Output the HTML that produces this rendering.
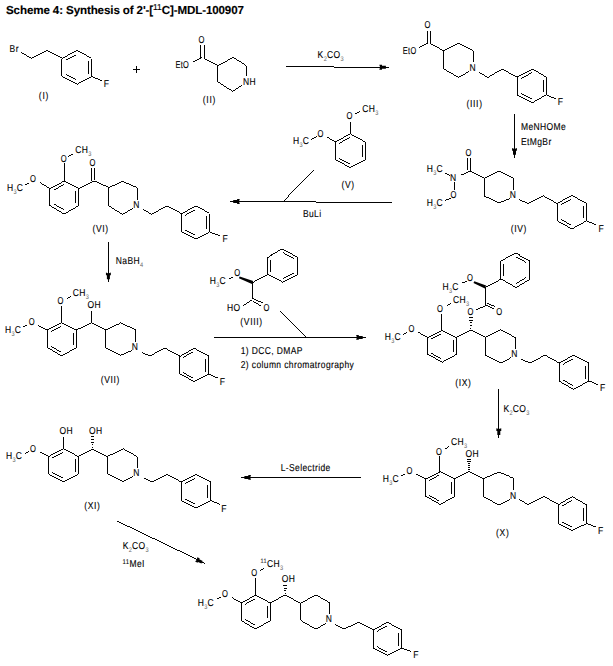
<!DOCTYPE html>
<html><head><meta charset="utf-8"><style>
html,body{margin:0;padding:0;background:#fff;}
svg{display:block;}
text{font-family:"Liberation Sans",sans-serif;fill:#000;text-rendering:geometricPrecision;stroke:#000;stroke-width:0.12;}
path{fill:none;stroke:#000;stroke-linecap:butt;stroke-linejoin:miter;shape-rendering:crispEdges;}
</style></head><body>
<svg width="613" height="666" viewBox="0 0 613 666">
<rect width="613" height="666" fill="#fff"/>
<text x="6" y="14.0" font-size="11.6" font-weight="bold" letter-spacing="-0.12">Scheme 4: Synthesis of 2'-[<tspan font-size="8.5" font-weight="normal" dy="-4.5">11</tspan><tspan dy="4.5">C]-MDL-100907</tspan></text>
<text transform="translate(9.6,52.4) scale(0.85,1)" font-size="10" letter-spacing="0.45">Br</text>
<path d="M21.0,52.2 L31.4,58.5 L46.5,50.7 L61.8,58.5" stroke-width="0.99"/>
<path d="M61.8,58.5 L76.5,50.7" stroke-width="0.99"/>
<path d="M76.5,50.7 L91.2,58.5" stroke-width="0.99"/>
<path d="M91.2,58.5 L91.2,76.2" stroke-width="0.99"/>
<path d="M91.2,76.2 L76.5,84.0" stroke-width="0.99"/>
<path d="M76.5,84.0 L61.8,76.2" stroke-width="0.99"/>
<path d="M61.8,76.2 L61.8,58.5" stroke-width="0.99"/>
<path d="M65.5,59.9 L75.8,54.5" stroke-width="0.99"/>
<path d="M88.2,61.2 L88.2,73.5" stroke-width="0.99"/>
<path d="M75.8,80.2 L65.5,74.8" stroke-width="0.99"/>
<path d="M91.2,76.2 L102.0,81.0" stroke-width="0.99"/>
<text transform="translate(103.8,87.2) scale(0.85,1)" font-size="10" letter-spacing="0.45">F</text>
<text transform="translate(43.9,98.8) scale(0.85,1)" font-size="10" text-anchor="middle" letter-spacing="0.8">(I)</text>
<path d="M133.4,69.7 L140.2,69.7" stroke-width="0.99"/>
<path d="M136.8,66.3 L136.8,73.1" stroke-width="0.99"/>
<text transform="translate(201.6,42.9) scale(0.76,1)" font-size="10" text-anchor="middle" letter-spacing="0.45">O</text>
<path d="M200.5,45.0 L200.5,57.6" stroke-width="0.99"/>
<path d="M204.4,45.0 L204.4,58.4" stroke-width="0.99"/>
<path d="M201.5,57.8 L193.3,61.6" stroke-width="0.99"/>
<text transform="translate(189.2,67.8) scale(0.74,1)" font-size="10" text-anchor="end" letter-spacing="0.45">EtO</text>
<path d="M203.8,58.4 L217.8,65.6" stroke-width="0.99"/>
<path d="M217.8,81.9 L217.8,65.6 L233.4,57.4 L246.1,65.6 L246.1,76.0" stroke-width="0.99"/>
<path d="M242.1,85.1 L232.8,91.4 L217.8,81.9" stroke-width="0.99"/>
<text transform="translate(243.0,84.9) scale(0.85,1)" font-size="10" letter-spacing="0.45">NH</text>
<text transform="translate(209.4,103.2) scale(0.85,1)" font-size="10" text-anchor="middle" letter-spacing="0.8">(II)</text>
<path d="M285.9,66.5 L333.8,66.5" stroke-width="0.99"/>
<path d="M333.8,67.5 L386.0,67.5" stroke-width="0.99"/>
<polygon points="385.90,65.80 382.00,65.80 382.00,64.85 379.30,64.85 380.10,67.30 379.30,69.75 382.00,69.75 382.00,68.80 385.90,68.80" fill="#000" stroke="none"/>
<path d="M389.0,67.3 L385.4,67.3" stroke-width="0.99"/>
<text transform="translate(317.6,58.0) scale(0.85,1)" font-size="10" letter-spacing="0.45">K<tspan font-size="6.6" dy="3.2" fill="#666" stroke="none" letter-spacing="0.2">2</tspan><tspan dy="-3.2">CO</tspan><tspan font-size="6.6" dy="3.2" fill="#666" stroke="none" letter-spacing="0.2">3</tspan></text>
<text transform="translate(427.6,27.9) scale(0.76,1)" font-size="10" text-anchor="middle" letter-spacing="0.45">O</text>
<path d="M427.5,31.2 L427.5,42.9" stroke-width="0.99"/>
<path d="M430.4,31.2 L430.4,43.6" stroke-width="0.99"/>
<path d="M428.1,42.8 L419.3,47.5" stroke-width="0.99"/>
<text transform="translate(416.5,53.6) scale(0.74,1)" font-size="10" text-anchor="end" letter-spacing="0.45">EtO</text>
<path d="M430.4,43.6 L443.4,50.6" stroke-width="0.99"/>
<path d="M443.4,68.7 L443.4,50.6 L458.4,43.3 L473.4,50.6 L473.4,62.4" stroke-width="0.99"/>
<path d="M469.4,71.3 L458.6,77.4 L443.4,68.7" stroke-width="0.99"/>
<text transform="translate(472.8,70.6) scale(0.85,1)" font-size="10" text-anchor="middle" letter-spacing="0.45">N</text>
<path d="M479.2,72.2 L487.7,77.5 L502.3,69.0 L517.0,77.2" stroke-width="0.99"/>
<path d="M517.0,77.2 L532.6,69.0" stroke-width="0.99"/>
<path d="M532.6,69.0 L546.3,77.2" stroke-width="0.99"/>
<path d="M546.3,77.2 L546.3,94.8" stroke-width="0.99"/>
<path d="M546.3,94.8 L532.6,102.6" stroke-width="0.99"/>
<path d="M532.6,102.6 L517.0,94.8" stroke-width="0.99"/>
<path d="M517.0,94.8 L517.0,77.2" stroke-width="0.99"/>
<path d="M520.8,78.6 L531.7,72.8" stroke-width="0.99"/>
<path d="M543.3,79.8 L543.3,92.1" stroke-width="0.99"/>
<path d="M531.7,98.8 L520.8,93.4" stroke-width="0.99"/>
<path d="M546.3,94.8 L556.1,99.1" stroke-width="0.99"/>
<text transform="translate(557.8,104.7) scale(0.85,1)" font-size="10" letter-spacing="0.45">F</text>
<text transform="translate(474.6,106.8) scale(0.85,1)" font-size="10" text-anchor="middle" letter-spacing="0.8">(III)</text>
<path d="M514.5,114.0 L514.5,154.0" stroke-width="0.99"/>
<polygon points="516.00,154.70 516.00,150.80 516.95,150.80 516.95,148.10 514.50,148.90 512.05,148.10 512.05,150.80 513.00,150.80 513.00,154.70" fill="#000" stroke="none"/>
<path d="M514.5,157.8 L514.5,154.2" stroke-width="0.99"/>
<text transform="translate(521.0,130.4) scale(0.85,1)" font-size="10" letter-spacing="0.45">MeNHOMe</text>
<text transform="translate(521.0,145.1) scale(0.85,1)" font-size="10" letter-spacing="0.45">EtMgBr</text>
<text transform="translate(362.3,111.8) scale(0.85,1)" font-size="10" letter-spacing="0.45">CH<tspan font-size="6.6" dy="3.2" fill="#666" stroke="none" letter-spacing="0.2">3</tspan></text>
<text transform="translate(349.5,118.9) scale(0.76,1)" font-size="10" text-anchor="middle" letter-spacing="0.45">O</text>
<path d="M354.8,114.1 L360.1,111.5" stroke-width="0.99"/>
<path d="M350.2,121.5 L350.2,133.8" stroke-width="0.99"/>
<path d="M335.3,142.1 L350.2,133.8" stroke-width="0.99"/>
<path d="M350.2,133.8 L365.4,142.1" stroke-width="0.99"/>
<path d="M365.4,142.1 L365.4,159.7" stroke-width="0.99"/>
<path d="M365.4,159.7 L350.2,167.5" stroke-width="0.99"/>
<path d="M350.2,167.5 L335.3,159.7" stroke-width="0.99"/>
<path d="M335.3,159.7 L335.3,142.1" stroke-width="0.99"/>
<path d="M339.1,143.4 L349.5,137.6" stroke-width="0.99"/>
<path d="M362.4,144.7 L362.4,157.0" stroke-width="0.99"/>
<path d="M349.5,163.7 L339.1,158.3" stroke-width="0.99"/>
<text transform="translate(320.5,136.5) scale(0.76,1)" font-size="10" text-anchor="middle" letter-spacing="0.45">O</text>
<path d="M327.3,137.0 L335.3,142.1" stroke-width="0.99"/>
<text transform="translate(292.9,143.6) scale(0.85,1)" font-size="10" letter-spacing="0.45">H<tspan font-size="6.6" dy="3.2" fill="#666" stroke="none" letter-spacing="0.2">3</tspan><tspan dy="-3.2">C</tspan></text>
<path d="M311.4,139.1 L317.1,136.4" stroke-width="0.99"/>
<text transform="translate(348.1,187.8) scale(0.85,1)" font-size="10" text-anchor="middle" letter-spacing="0.8">(V)</text>
<path d="M236.0,201.3 L315.6,201.3" stroke-width="0.99"/>
<path d="M315.6,202.2 L392.0,202.2" stroke-width="0.99"/>
<polygon points="233.20,203.00 237.10,203.00 237.10,203.95 239.80,203.95 239.00,201.50 239.80,199.05 237.10,199.05 237.10,200.00 233.20,200.00" fill="#000" stroke="none"/>
<path d="M230.1,201.5 L233.7,201.5" stroke-width="0.99"/>
<path d="M284.0,200.9 L297.6,186.2 L313.5,170.3" stroke-width="0.99"/>
<text transform="translate(302.9,217.2) scale(0.85,1)" font-size="10" letter-spacing="0.45">BuLi</text>
<text transform="translate(468.6,155.8) scale(0.76,1)" font-size="10" text-anchor="middle" letter-spacing="0.45">O</text>
<path d="M467.3,157.8 L467.3,170.0" stroke-width="0.99"/>
<path d="M470.2,157.8 L470.2,171.3" stroke-width="0.99"/>
<path d="M470.2,171.3 L460.8,175.2" stroke-width="0.99"/>
<text transform="translate(453.3,181.2) scale(0.85,1)" font-size="10" text-anchor="middle" letter-spacing="0.45">N</text>
<path d="M470.2,171.3 L484.3,178.4" stroke-width="0.99"/>
<text transform="translate(426.7,171.7) scale(0.85,1)" font-size="10" letter-spacing="0.45">H<tspan font-size="6.6" dy="3.2" fill="#666" stroke="none" letter-spacing="0.2">3</tspan><tspan dy="-3.2">C</tspan></text>
<path d="M445.1,173.3 L450.4,175.6" stroke-width="0.99"/>
<path d="M454.0,182.1 L454.0,189.9" stroke-width="0.99"/>
<text transform="translate(453.6,197.9) scale(0.76,1)" font-size="10" text-anchor="middle" letter-spacing="0.45">O</text>
<text transform="translate(426.7,205.6) scale(0.85,1)" font-size="10" letter-spacing="0.45">H<tspan font-size="6.6" dy="3.2" fill="#666" stroke="none" letter-spacing="0.2">3</tspan><tspan dy="-3.2">C</tspan></text>
<path d="M445.1,200.5 L451.0,198.0" stroke-width="0.99"/>
<path d="M484.3,196.0 L484.3,178.4 L499.0,171.1 L513.7,178.4 L513.7,189.7" stroke-width="0.99"/>
<path d="M509.7,198.6 L499.0,202.9 L484.3,196.0" stroke-width="0.99"/>
<text transform="translate(513.1,197.9) scale(0.85,1)" font-size="10" text-anchor="middle" letter-spacing="0.45">N</text>
<path d="M519.4,199.5 L527.6,203.5 L543.3,195.8 L557.1,203.5" stroke-width="0.99"/>
<path d="M557.1,203.5 L571.9,195.4" stroke-width="0.99"/>
<path d="M571.9,195.4 L586.6,203.5" stroke-width="0.99"/>
<path d="M586.6,203.5 L586.6,220.7" stroke-width="0.99"/>
<path d="M586.6,220.7 L571.9,229.0" stroke-width="0.99"/>
<path d="M571.9,229.0 L557.1,220.7" stroke-width="0.99"/>
<path d="M557.1,220.7 L557.1,203.5" stroke-width="0.99"/>
<path d="M560.8,204.9 L571.2,199.2" stroke-width="0.99"/>
<path d="M583.6,206.1 L583.6,218.1" stroke-width="0.99"/>
<path d="M571.2,225.2 L560.8,219.3" stroke-width="0.99"/>
<path d="M586.6,220.7 L595.9,224.9" stroke-width="0.99"/>
<text transform="translate(598.4,231.9) scale(0.85,1)" font-size="10" letter-spacing="0.45">F</text>
<text transform="translate(518.9,231.8) scale(0.85,1)" font-size="10" text-anchor="middle" letter-spacing="0.8">(IV)</text>
<text transform="translate(75.2,153.0) scale(0.85,1)" font-size="10" letter-spacing="0.45">CH<tspan font-size="6.6" dy="3.2" fill="#666" stroke="none" letter-spacing="0.2">3</tspan></text>
<text transform="translate(63.9,162.0) scale(0.76,1)" font-size="10" text-anchor="middle" letter-spacing="0.45">O</text>
<path d="M68.1,156.6 L73.4,154.1" stroke-width="0.99"/>
<path d="M64.2,163.1 L64.2,181.1" stroke-width="0.99"/>
<path d="M49.9,188.6 L64.2,181.1" stroke-width="0.99"/>
<path d="M64.2,181.1 L78.7,188.6" stroke-width="0.99"/>
<path d="M78.7,188.6 L78.7,205.6" stroke-width="0.99"/>
<path d="M78.7,205.6 L64.2,214.0" stroke-width="0.99"/>
<path d="M64.2,214.0 L49.9,205.6" stroke-width="0.99"/>
<path d="M49.9,205.6 L49.9,188.6" stroke-width="0.99"/>
<path d="M53.6,190.1 L63.6,184.8" stroke-width="0.99"/>
<path d="M75.7,191.2 L75.7,203.1" stroke-width="0.99"/>
<path d="M63.6,210.1 L53.5,204.3" stroke-width="0.99"/>
<text transform="translate(33.2,182.2) scale(0.76,1)" font-size="10" text-anchor="middle" letter-spacing="0.45">O</text>
<path d="M40.1,182.7 L49.9,188.6" stroke-width="0.99"/>
<text transform="translate(6.9,190.6) scale(0.85,1)" font-size="10" letter-spacing="0.45">H<tspan font-size="6.6" dy="3.2" fill="#666" stroke="none" letter-spacing="0.2">3</tspan><tspan dy="-3.2">C</tspan></text>
<path d="M24.5,184.6 L29.4,182.1" stroke-width="0.99"/>
<path d="M78.7,188.6 L93.5,181.1" stroke-width="0.99"/>
<path d="M91.6,168.0 L91.6,180.8" stroke-width="0.99"/>
<path d="M94.4,168.0 L94.4,180.3" stroke-width="0.99"/>
<text transform="translate(92.6,165.6) scale(0.76,1)" font-size="10" text-anchor="middle" letter-spacing="0.45">O</text>
<path d="M93.5,181.1 L108.6,187.7" stroke-width="0.99"/>
<path d="M108.6,205.8 L108.6,187.7 L122.6,181.4 L137.2,187.7 L137.2,199.5" stroke-width="0.99"/>
<path d="M133.2,208.4 L122.3,214.3 L108.6,205.8" stroke-width="0.99"/>
<text transform="translate(136.6,207.7) scale(0.85,1)" font-size="10" text-anchor="middle" letter-spacing="0.45">N</text>
<path d="M143.1,209.3 L151.4,214.2 L167.0,206.1 L181.8,213.7" stroke-width="0.99"/>
<path d="M181.8,213.7 L195.5,206.1" stroke-width="0.99"/>
<path d="M195.5,206.1 L209.2,213.7" stroke-width="0.99"/>
<path d="M209.2,213.7 L209.2,231.9" stroke-width="0.99"/>
<path d="M209.2,231.9 L195.5,238.8" stroke-width="0.99"/>
<path d="M195.5,238.8 L181.8,231.9" stroke-width="0.99"/>
<path d="M181.8,231.9 L181.8,213.7" stroke-width="0.99"/>
<path d="M185.3,215.2 L194.9,209.9" stroke-width="0.99"/>
<path d="M206.2,216.4 L206.2,229.1" stroke-width="0.99"/>
<path d="M194.9,235.1 L185.3,230.3" stroke-width="0.99"/>
<path d="M209.2,231.9 L219.5,235.4" stroke-width="0.99"/>
<text transform="translate(222.6,241.9) scale(0.85,1)" font-size="10" letter-spacing="0.45">F</text>
<text transform="translate(100.6,232.3) scale(0.85,1)" font-size="10" text-anchor="middle" letter-spacing="0.8">(VI)</text>
<path d="M108.4,241.9 L108.4,279.0" stroke-width="0.99"/>
<polygon points="109.90,279.20 109.90,275.30 110.85,275.30 110.85,272.60 108.40,273.40 105.95,272.60 105.95,275.30 106.90,275.30 106.90,279.20" fill="#000" stroke="none"/>
<path d="M108.4,282.3 L108.4,278.7" stroke-width="0.99"/>
<text transform="translate(115.8,263.5) scale(0.85,1)" font-size="10" letter-spacing="0.45">NaBH<tspan font-size="6.6" dy="3.2" fill="#666" stroke="none" letter-spacing="0.2">4</tspan></text>
<text transform="translate(72.8,296.0) scale(0.85,1)" font-size="10" letter-spacing="0.45">CH<tspan font-size="6.6" dy="3.2" fill="#666" stroke="none" letter-spacing="0.2">3</tspan></text>
<text transform="translate(60.7,304.1) scale(0.76,1)" font-size="10" text-anchor="middle" letter-spacing="0.45">O</text>
<path d="M67.0,298.6 L70.9,296.6" stroke-width="0.99"/>
<path d="M61.7,306.4 L61.7,322.7" stroke-width="0.99"/>
<path d="M47.4,330.0 L61.7,322.7" stroke-width="0.99"/>
<path d="M61.7,322.7 L76.4,330.0" stroke-width="0.99"/>
<path d="M76.4,330.0 L76.4,347.5" stroke-width="0.99"/>
<path d="M76.4,347.5 L61.7,356.0" stroke-width="0.99"/>
<path d="M61.7,356.0 L47.4,347.5" stroke-width="0.99"/>
<path d="M47.4,347.5 L47.4,330.0" stroke-width="0.99"/>
<path d="M51.0,331.5 L61.1,326.4" stroke-width="0.99"/>
<path d="M73.4,332.7 L73.4,344.9" stroke-width="0.99"/>
<path d="M61.0,352.1 L51.0,346.2" stroke-width="0.99"/>
<text transform="translate(31.9,325.1) scale(0.76,1)" font-size="10" text-anchor="middle" letter-spacing="0.45">O</text>
<path d="M38.2,325.4 L47.4,330.0" stroke-width="0.99"/>
<text transform="translate(4.9,332.6) scale(0.85,1)" font-size="10" letter-spacing="0.45">H<tspan font-size="6.6" dy="3.2" fill="#666" stroke="none" letter-spacing="0.2">3</tspan><tspan dy="-3.2">C</tspan></text>
<path d="M23.1,327.0 L27.4,325.0" stroke-width="0.99"/>
<path d="M76.4,330.0 L91.6,322.7" stroke-width="0.99"/>
<path d="M91.6,311.3 L91.6,322.7" stroke-width="0.99"/>
<text transform="translate(87.6,307.7) scale(0.85,1)" font-size="10" letter-spacing="0.45">OH</text>
<path d="M91.6,322.7 L105.5,329.7" stroke-width="0.99"/>
<path d="M105.5,348.0 L105.5,329.7 L120.1,322.8 L135.6,329.7 L135.6,341.7" stroke-width="0.99"/>
<path d="M131.6,350.6 L120.1,355.5 L105.5,348.0" stroke-width="0.99"/>
<text transform="translate(135.0,349.9) scale(0.85,1)" font-size="10" text-anchor="middle" letter-spacing="0.45">N</text>
<path d="M141.8,352.5 L149.8,356.0 L164.7,348.0 L179.5,356.0" stroke-width="0.99"/>
<path d="M179.5,356.0 L193.7,348.0" stroke-width="0.99"/>
<path d="M193.7,348.0 L208.5,356.0" stroke-width="0.99"/>
<path d="M208.5,356.0 L208.5,374.2" stroke-width="0.99"/>
<path d="M208.5,374.2 L193.7,381.8" stroke-width="0.99"/>
<path d="M193.7,381.8 L179.5,374.2" stroke-width="0.99"/>
<path d="M179.5,374.2 L179.5,356.0" stroke-width="0.99"/>
<path d="M183.1,357.4 L193.0,351.8" stroke-width="0.99"/>
<path d="M205.5,358.7 L205.5,371.5" stroke-width="0.99"/>
<path d="M193.0,378.0 L183.1,372.7" stroke-width="0.99"/>
<path d="M208.5,374.2 L218.3,378.8" stroke-width="0.99"/>
<text transform="translate(219.8,384.6) scale(0.85,1)" font-size="10" letter-spacing="0.45">F</text>
<text transform="translate(110.4,383.3) scale(0.85,1)" font-size="10" text-anchor="middle" letter-spacing="0.8">(VII)</text>
<text transform="translate(209.8,283.9) scale(0.85,1)" font-size="10" letter-spacing="0.45">H<tspan font-size="6.6" dy="3.2" fill="#666" stroke="none" letter-spacing="0.2">3</tspan><tspan dy="-3.2">C</tspan></text>
<path d="M229.0,278.7 L233.3,276.9" stroke-width="0.99"/>
<text transform="translate(237.4,276.4) scale(0.76,1)" font-size="10" text-anchor="middle" letter-spacing="0.45">O</text>
<polygon points="238.9,278.2 252.0,284.1 253.2,281.1 239.7,276.4" fill="#000" stroke="none"/>
<path d="M252.5,282.2 L267.5,274.8" stroke-width="0.99"/>
<path d="M267.5,257.1 L282.2,248.9" stroke-width="0.99"/>
<path d="M282.2,248.9 L297.3,257.1" stroke-width="0.99"/>
<path d="M297.3,257.1 L297.3,274.8" stroke-width="0.99"/>
<path d="M297.3,274.8 L282.2,282.2" stroke-width="0.99"/>
<path d="M282.2,282.2 L267.5,274.8" stroke-width="0.99"/>
<path d="M267.5,274.8 L267.5,257.1" stroke-width="0.99"/>
<path d="M270.5,272.1 L270.5,259.7" stroke-width="0.99"/>
<path d="M283.0,252.7 L293.5,258.5" stroke-width="0.99"/>
<path d="M293.5,273.3 L283.0,278.5" stroke-width="0.99"/>
<path d="M252.5,282.2 L252.5,298.6" stroke-width="0.99"/>
<path d="M252.5,298.6 L262.6,302.8" stroke-width="0.99"/>
<path d="M252.8,301.3 L260.7,305.7" stroke-width="0.99"/>
<text transform="translate(266.7,310.7) scale(0.76,1)" font-size="10" text-anchor="middle" letter-spacing="0.45">O</text>
<path d="M251.8,299.9 L243.2,305.6" stroke-width="0.99"/>
<text transform="translate(240.6,310.7) scale(0.85,1)" font-size="10" text-anchor="end" letter-spacing="0.45">HO</text>
<text transform="translate(251.6,324.8) scale(0.85,1)" font-size="10" text-anchor="middle" letter-spacing="0.8">(VIII)</text>
<path d="M214.3,337.4 L363.0,337.4" stroke-width="0.99"/>
<polygon points="362.70,335.90 358.80,335.90 358.80,334.95 356.10,334.95 356.90,337.40 356.10,339.85 358.80,339.85 358.80,338.90 362.70,338.90" fill="#000" stroke="none"/>
<path d="M365.8,337.4 L362.2,337.4" stroke-width="0.99"/>
<path d="M280.0,311.5 L306.0,337.3" stroke-width="0.99"/>
<text transform="translate(240.7,354.1) scale(0.85,1)" font-size="10" letter-spacing="0.45">1) DCC, DMAP</text>
<text transform="translate(240.7,367.9) scale(0.85,1)" font-size="10" letter-spacing="0.45">2) column chromatrography</text>
<text transform="translate(442.5,289.8) scale(0.85,1)" font-size="10" letter-spacing="0.45">H<tspan font-size="6.6" dy="3.2" fill="#666" stroke="none" letter-spacing="0.2">3</tspan><tspan dy="-3.2">C</tspan></text>
<path d="M462.1,283.2 L467.0,280.8" stroke-width="0.99"/>
<text transform="translate(470.2,281.1) scale(0.76,1)" font-size="10" text-anchor="middle" letter-spacing="0.45">O</text>
<polygon points="473.5,283.1 484.9,288.4 486.1,285.4 474.3,281.3" fill="#000" stroke="none"/>
<path d="M485.5,286.8 L500.8,278.8" stroke-width="0.99"/>
<path d="M500.8,260.9 L515.5,253.4" stroke-width="0.99"/>
<path d="M515.5,253.4 L529.8,260.9" stroke-width="0.99"/>
<path d="M529.8,260.9 L529.8,278.8" stroke-width="0.99"/>
<path d="M529.8,278.8 L515.5,287.3" stroke-width="0.99"/>
<path d="M515.5,287.3 L500.8,278.8" stroke-width="0.99"/>
<path d="M500.8,278.8 L500.8,260.9" stroke-width="0.99"/>
<path d="M503.8,276.1 L503.8,263.6" stroke-width="0.99"/>
<path d="M516.2,257.1 L526.2,262.4" stroke-width="0.99"/>
<path d="M526.2,277.5 L516.2,283.4" stroke-width="0.99"/>
<path d="M485.5,286.8 L485.5,305.3" stroke-width="0.99"/>
<path d="M485.5,305.3 L494.3,309.3" stroke-width="0.99"/>
<path d="M486.6,302.8 L495.4,306.8" stroke-width="0.99"/>
<text transform="translate(499.4,314.8) scale(0.76,1)" font-size="10" text-anchor="middle" letter-spacing="0.45">O</text>
<path d="M485.5,305.3 L475.5,309.8" stroke-width="0.99"/>
<text transform="translate(470.5,315.1) scale(0.76,1)" font-size="10" text-anchor="middle" letter-spacing="0.45">O</text>
<path d="M470.4,328.5 L471.4,328.5" stroke-width="0.99"/>
<path d="M470.0,325.5 L471.8,325.5" stroke-width="0.99"/>
<path d="M469.6,322.5 L472.1,322.5" stroke-width="0.99"/>
<path d="M469.3,320.5 L472.5,320.5" stroke-width="0.99"/>
<path d="M468.9,317.5 L472.9,317.5" stroke-width="0.99"/>
<text transform="translate(452.9,302.9) scale(0.85,1)" font-size="10" letter-spacing="0.45">CH<tspan font-size="6.6" dy="3.2" fill="#666" stroke="none" letter-spacing="0.2">3</tspan></text>
<text transform="translate(440.2,311.7) scale(0.76,1)" font-size="10" text-anchor="middle" letter-spacing="0.45">O</text>
<path d="M446.5,305.3 L451.3,302.2" stroke-width="0.99"/>
<path d="M441.6,313.5 L441.6,330.2" stroke-width="0.99"/>
<path d="M427.5,337.4 L441.6,330.2" stroke-width="0.99"/>
<path d="M441.6,330.2 L456.2,337.4" stroke-width="0.99"/>
<path d="M456.2,337.4 L456.2,354.6" stroke-width="0.99"/>
<path d="M456.2,354.6 L441.6,362.5" stroke-width="0.99"/>
<path d="M441.6,362.5 L427.5,354.6" stroke-width="0.99"/>
<path d="M427.5,354.6 L427.5,337.4" stroke-width="0.99"/>
<path d="M431.1,338.9 L441.0,333.9" stroke-width="0.99"/>
<path d="M453.2,340.0 L453.2,352.0" stroke-width="0.99"/>
<path d="M441.0,358.7 L431.1,353.2" stroke-width="0.99"/>
<text transform="translate(411.5,332.2) scale(0.76,1)" font-size="10" text-anchor="middle" letter-spacing="0.45">O</text>
<path d="M418.1,332.1 L427.5,337.4" stroke-width="0.99"/>
<text transform="translate(384.8,339.7) scale(0.85,1)" font-size="10" letter-spacing="0.45">H<tspan font-size="6.6" dy="3.2" fill="#666" stroke="none" letter-spacing="0.2">3</tspan><tspan dy="-3.2">C</tspan></text>
<path d="M403.4,334.1 L407.3,332.1" stroke-width="0.99"/>
<path d="M456.2,337.4 L470.9,330.2" stroke-width="0.99"/>
<path d="M470.9,330.2 L485.4,337.4" stroke-width="0.99"/>
<path d="M485.4,355.1 L485.4,337.4 L500.6,329.8 L515.1,337.4 L515.1,348.8" stroke-width="0.99"/>
<path d="M511.1,357.7 L500.6,363.0 L485.4,355.1" stroke-width="0.99"/>
<text transform="translate(514.5,357.0) scale(0.85,1)" font-size="10" text-anchor="middle" letter-spacing="0.45">N</text>
<path d="M521.2,359.1 L529.9,363.0 L545.1,355.1 L559.2,363.0" stroke-width="0.99"/>
<path d="M559.2,363.0 L573.7,355.1" stroke-width="0.99"/>
<path d="M573.7,355.1 L588.5,363.0" stroke-width="0.99"/>
<path d="M588.5,363.0 L588.5,381.2" stroke-width="0.99"/>
<path d="M588.5,381.2 L573.7,389.4" stroke-width="0.99"/>
<path d="M573.7,389.4 L559.2,381.2" stroke-width="0.99"/>
<path d="M559.2,381.2 L559.2,363.0" stroke-width="0.99"/>
<path d="M562.8,364.4 L573.0,358.9" stroke-width="0.99"/>
<path d="M585.5,365.7 L585.5,378.5" stroke-width="0.99"/>
<path d="M573.0,385.6 L562.8,379.8" stroke-width="0.99"/>
<path d="M588.5,381.2 L598.2,385.1" stroke-width="0.99"/>
<text transform="translate(600.1,391.3) scale(0.85,1)" font-size="10" letter-spacing="0.45">F</text>
<text transform="translate(463.4,385.8) scale(0.85,1)" font-size="10" text-anchor="middle" letter-spacing="0.8">(IX)</text>
<path d="M498.8,389.3 L498.8,434.5" stroke-width="0.99"/>
<polygon points="500.30,434.90 500.30,431.00 501.25,431.00 501.25,428.30 498.80,429.10 496.35,428.30 496.35,431.00 497.30,431.00 497.30,434.90" fill="#000" stroke="none"/>
<path d="M498.8,438.0 L498.8,434.4" stroke-width="0.99"/>
<text transform="translate(503.4,412.2) scale(0.85,1)" font-size="10" letter-spacing="0.45">K<tspan font-size="6.6" dy="3.2" fill="#666" stroke="none" letter-spacing="0.2">2</tspan><tspan dy="-3.2">CO</tspan><tspan font-size="6.6" dy="3.2" fill="#666" stroke="none" letter-spacing="0.2">3</tspan></text>
<text transform="translate(451.0,444.6) scale(0.85,1)" font-size="10" letter-spacing="0.45">CH<tspan font-size="6.6" dy="3.2" fill="#666" stroke="none" letter-spacing="0.2">3</tspan></text>
<text transform="translate(439.0,454.6) scale(0.76,1)" font-size="10" text-anchor="middle" letter-spacing="0.45">O</text>
<path d="M444.5,448.6 L449.0,446.0" stroke-width="0.99"/>
<path d="M439.6,456.4 L439.6,471.5" stroke-width="0.99"/>
<path d="M425.5,478.9 L439.6,471.5" stroke-width="0.99"/>
<path d="M439.6,471.5 L454.3,478.9" stroke-width="0.99"/>
<path d="M454.3,478.9 L454.3,496.6" stroke-width="0.99"/>
<path d="M454.3,496.6 L439.6,504.8" stroke-width="0.99"/>
<path d="M439.6,504.8 L425.5,496.6" stroke-width="0.99"/>
<path d="M425.5,496.6 L425.5,478.9" stroke-width="0.99"/>
<path d="M429.1,480.4 L439.0,475.2" stroke-width="0.99"/>
<path d="M451.3,481.6 L451.3,494.0" stroke-width="0.99"/>
<path d="M439.0,501.0 L429.1,495.2" stroke-width="0.99"/>
<text transform="translate(409.5,473.6) scale(0.76,1)" font-size="10" text-anchor="middle" letter-spacing="0.45">O</text>
<path d="M416.1,474.0 L425.5,478.9" stroke-width="0.99"/>
<text transform="translate(382.8,481.6) scale(0.85,1)" font-size="10" letter-spacing="0.45">H<tspan font-size="6.6" dy="3.2" fill="#666" stroke="none" letter-spacing="0.2">3</tspan><tspan dy="-3.2">C</tspan></text>
<path d="M400.8,476.0 L405.3,474.0" stroke-width="0.99"/>
<path d="M454.3,478.9 L469.0,471.5" stroke-width="0.99"/>
<path d="M468.4,471.5 L469.4,471.5" stroke-width="0.99"/>
<path d="M468.2,469.5 L469.6,469.5" stroke-width="0.99"/>
<path d="M467.9,467.5 L469.9,467.5" stroke-width="0.99"/>
<path d="M467.7,465.5 L470.1,465.5" stroke-width="0.99"/>
<path d="M467.5,463.5 L470.3,463.5" stroke-width="0.99"/>
<path d="M467.2,461.5 L470.6,461.5" stroke-width="0.99"/>
<path d="M467.0,459.5 L470.8,459.5" stroke-width="0.99"/>
<text transform="translate(465.6,457.1) scale(0.85,1)" font-size="10" letter-spacing="0.45">OH</text>
<path d="M469.0,471.5 L483.6,478.7" stroke-width="0.99"/>
<path d="M483.6,496.7 L483.6,478.7 L498.5,472.2 L513.9,478.5 L513.9,490.4" stroke-width="0.99"/>
<path d="M509.9,499.3 L498.5,504.8 L483.6,496.7" stroke-width="0.99"/>
<text transform="translate(513.3,498.6) scale(0.85,1)" font-size="10" text-anchor="middle" letter-spacing="0.45">N</text>
<path d="M518.5,499.5 L527.1,504.8 L543.5,496.7 L558.2,504.8" stroke-width="0.99"/>
<path d="M558.2,504.8 L572.2,496.7" stroke-width="0.99"/>
<path d="M572.2,496.7 L586.6,504.8" stroke-width="0.99"/>
<path d="M586.6,504.8 L586.6,523.5" stroke-width="0.99"/>
<path d="M586.6,523.5 L572.2,530.5" stroke-width="0.99"/>
<path d="M572.2,530.5 L558.2,523.5" stroke-width="0.99"/>
<path d="M558.2,523.5 L558.2,504.8" stroke-width="0.99"/>
<path d="M561.7,506.2 L571.5,500.6" stroke-width="0.99"/>
<path d="M583.6,507.6 L583.6,520.7" stroke-width="0.99"/>
<path d="M571.5,526.8 L561.7,521.9" stroke-width="0.99"/>
<path d="M586.6,523.5 L596.0,527.0" stroke-width="0.99"/>
<text transform="translate(598.0,534.1) scale(0.85,1)" font-size="10" letter-spacing="0.45">F</text>
<text transform="translate(502.7,535.6) scale(0.85,1)" font-size="10" text-anchor="middle" letter-spacing="0.8">(X)</text>
<path d="M244.0,477.4 L360.6,477.4" stroke-width="0.99"/>
<polygon points="244.40,478.90 248.30,478.90 248.30,479.85 251.00,479.85 250.20,477.40 251.00,474.95 248.30,474.95 248.30,475.90 244.40,475.90" fill="#000" stroke="none"/>
<path d="M241.3,477.4 L244.9,477.4" stroke-width="0.99"/>
<text transform="translate(280.7,471.4) scale(0.85,1)" font-size="10" letter-spacing="0.45">L-Selectride</text>
<text transform="translate(59.6,434.2) scale(0.85,1)" font-size="10" letter-spacing="0.45">OH</text>
<path d="M63.6,436.5 L63.6,448.7" stroke-width="0.99"/>
<path d="M48.6,456.5 L63.6,448.7" stroke-width="0.99"/>
<path d="M63.6,448.7 L78.3,456.5" stroke-width="0.99"/>
<path d="M78.3,456.5 L78.3,474.1" stroke-width="0.99"/>
<path d="M78.3,474.1 L63.6,482.0" stroke-width="0.99"/>
<path d="M63.6,482.0 L48.6,474.1" stroke-width="0.99"/>
<path d="M48.6,474.1 L48.6,456.5" stroke-width="0.99"/>
<path d="M52.4,457.9 L62.9,452.5" stroke-width="0.99"/>
<path d="M75.3,459.1 L75.3,471.5" stroke-width="0.99"/>
<path d="M62.9,478.2 L52.4,472.7" stroke-width="0.99"/>
<text transform="translate(33.2,451.9) scale(0.76,1)" font-size="10" text-anchor="middle" letter-spacing="0.45">O</text>
<path d="M40.1,452.2 L48.6,456.5" stroke-width="0.99"/>
<text transform="translate(5.9,458.8) scale(0.85,1)" font-size="10" letter-spacing="0.45">H<tspan font-size="6.6" dy="3.2" fill="#666" stroke="none" letter-spacing="0.2">3</tspan><tspan dy="-3.2">C</tspan></text>
<path d="M24.5,453.2 L29.0,451.2" stroke-width="0.99"/>
<path d="M78.3,456.5 L92.4,449.0" stroke-width="0.99"/>
<path d="M91.9,447.5 L92.9,447.5" stroke-width="0.99"/>
<path d="M91.6,444.5 L93.2,444.5" stroke-width="0.99"/>
<path d="M91.2,442.5 L93.6,442.5" stroke-width="0.99"/>
<path d="M90.9,439.5 L93.9,439.5" stroke-width="0.99"/>
<path d="M90.6,436.5 L94.2,436.5" stroke-width="0.99"/>
<text transform="translate(89.1,434.2) scale(0.85,1)" font-size="10" letter-spacing="0.45">OH</text>
<path d="M92.4,449.0 L107.3,456.5" stroke-width="0.99"/>
<path d="M107.3,473.8 L107.3,456.5 L123.4,448.9 L137.1,456.5 L137.1,467.5" stroke-width="0.99"/>
<path d="M133.1,476.4 L123.4,481.6 L107.3,473.8" stroke-width="0.99"/>
<text transform="translate(136.5,475.7) scale(0.85,1)" font-size="10" text-anchor="middle" letter-spacing="0.45">N</text>
<path d="M143.5,478.5 L151.8,482.0 L167.1,474.5 L181.3,482.0" stroke-width="0.99"/>
<path d="M181.3,482.0 L196.2,474.5" stroke-width="0.99"/>
<path d="M196.2,474.5 L210.9,482.0" stroke-width="0.99"/>
<path d="M210.9,482.0 L210.9,500.5" stroke-width="0.99"/>
<path d="M210.9,500.5 L196.2,508.0" stroke-width="0.99"/>
<path d="M196.2,508.0 L181.3,500.5" stroke-width="0.99"/>
<path d="M181.3,500.5 L181.3,482.0" stroke-width="0.99"/>
<path d="M185.0,483.5 L195.4,478.2" stroke-width="0.99"/>
<path d="M207.9,484.8 L207.9,497.7" stroke-width="0.99"/>
<path d="M195.4,504.3 L185.0,499.0" stroke-width="0.99"/>
<path d="M210.9,500.5 L219.9,504.5" stroke-width="0.99"/>
<text transform="translate(221.3,511.7) scale(0.85,1)" font-size="10" letter-spacing="0.45">F</text>
<text transform="translate(92.4,509.3) scale(0.85,1)" font-size="10" text-anchor="middle" letter-spacing="0.8">(XI)</text>
<path d="M117.1,521.0 L202.0,561.8" stroke-width="0.99"/>
<polygon points="202.77,560.90 199.26,559.19 199.67,558.34 197.24,557.16 196.89,559.72 195.10,561.57 197.53,562.75 197.95,561.89 201.46,563.60" fill="#000" stroke="none"/>
<path d="M204.9,563.6 L201.7,562.0" stroke-width="0.99"/>
<text transform="translate(122.7,549.2) scale(0.85,1)" font-size="10" letter-spacing="0.45">K<tspan font-size="6.6" dy="3.2" fill="#666" stroke="none" letter-spacing="0.2">2</tspan><tspan dy="-3.2">CO</tspan><tspan font-size="6.6" dy="3.2" fill="#666" stroke="none" letter-spacing="0.2">3</tspan></text>
<text transform="translate(122.5,566.8) scale(0.85,1)" font-size="10" letter-spacing="0.45"><tspan font-size="7" dy="-3">11</tspan><tspan dy="3">MeI</tspan></text>
<text transform="translate(260.5,566.9) scale(0.85,1)" font-size="10" letter-spacing="0.45"><tspan font-size="6.5" dy="-4" fill="#444">11</tspan><tspan dy="4">CH</tspan><tspan font-size="6.6" dy="3.2" fill="#666" stroke="none" letter-spacing="0.2">3</tspan></text>
<text transform="translate(254.4,575.7) scale(0.76,1)" font-size="10" text-anchor="middle" letter-spacing="0.45">O</text>
<path d="M259.8,571.0 L263.8,568.3" stroke-width="0.99"/>
<path d="M255.6,578.1 L255.6,595.1" stroke-width="0.99"/>
<path d="M241.3,603.0 L255.6,595.1" stroke-width="0.99"/>
<path d="M255.6,595.1 L270.3,603.0" stroke-width="0.99"/>
<path d="M270.3,603.0 L270.3,620.6" stroke-width="0.99"/>
<path d="M270.3,620.6 L255.6,629.0" stroke-width="0.99"/>
<path d="M255.6,629.0 L241.3,620.6" stroke-width="0.99"/>
<path d="M241.3,620.6 L241.3,603.0" stroke-width="0.99"/>
<path d="M244.9,604.4 L254.9,598.9" stroke-width="0.99"/>
<path d="M267.3,605.7 L267.3,618.0" stroke-width="0.99"/>
<path d="M254.9,625.1 L244.9,619.2" stroke-width="0.99"/>
<text transform="translate(225.2,597.2) scale(0.76,1)" font-size="10" text-anchor="middle" letter-spacing="0.45">O</text>
<path d="M232.1,597.7 L241.3,603.0" stroke-width="0.99"/>
<text transform="translate(197.8,605.6) scale(0.85,1)" font-size="10" letter-spacing="0.45">H<tspan font-size="6.6" dy="3.2" fill="#666" stroke="none" letter-spacing="0.2">3</tspan><tspan dy="-3.2">C</tspan></text>
<path d="M217.0,599.0 L221.3,597.1" stroke-width="0.99"/>
<path d="M270.3,603.0 L285.1,594.8" stroke-width="0.99"/>
<path d="M284.6,593.5 L285.6,593.5" stroke-width="0.99"/>
<path d="M284.1,590.5 L286.1,590.5" stroke-width="0.99"/>
<path d="M283.6,588.5 L286.6,588.5" stroke-width="0.99"/>
<path d="M283.2,585.5 L287.1,585.5" stroke-width="0.99"/>
<text transform="translate(281.8,581.8) scale(0.85,1)" font-size="10" letter-spacing="0.45">OH</text>
<path d="M285.1,594.8 L300.6,603.4" stroke-width="0.99"/>
<path d="M300.6,620.4 L300.6,603.4 L315.5,595.1 L329.7,603.4 L329.7,614.1" stroke-width="0.99"/>
<path d="M325.7,623.0 L315.5,628.9 L300.6,620.4" stroke-width="0.99"/>
<text transform="translate(329.1,622.3) scale(0.85,1)" font-size="10" text-anchor="middle" letter-spacing="0.45">N</text>
<path d="M334.9,624.7 L343.9,628.9 L359.1,622.3 L373.3,629.9" stroke-width="0.99"/>
<path d="M373.3,629.9 L387.4,622.3" stroke-width="0.99"/>
<path d="M387.4,622.3 L401.6,629.9" stroke-width="0.99"/>
<path d="M401.6,629.9 L401.6,648.3" stroke-width="0.99"/>
<path d="M401.6,648.3 L387.4,655.4" stroke-width="0.99"/>
<path d="M387.4,655.4 L373.3,648.3" stroke-width="0.99"/>
<path d="M373.3,648.3 L373.3,629.9" stroke-width="0.99"/>
<path d="M376.9,631.4 L386.7,626.1" stroke-width="0.99"/>
<path d="M398.6,632.6 L398.6,645.5" stroke-width="0.99"/>
<path d="M386.7,651.7 L376.9,646.7" stroke-width="0.99"/>
<path d="M401.6,648.3 L410.6,651.2" stroke-width="0.99"/>
<text transform="translate(413.3,658.4) scale(0.85,1)" font-size="10" letter-spacing="0.45">F</text>
</svg>
</body></html>
